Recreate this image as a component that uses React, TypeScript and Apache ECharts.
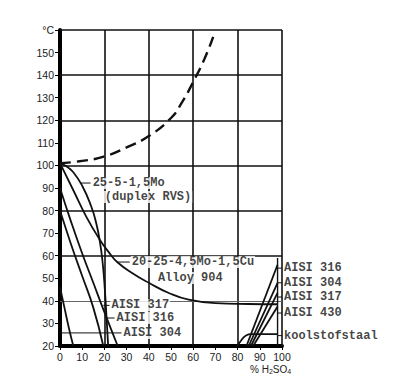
import React, { useEffect, useRef } from "react";
import * as echarts from "echarts";

// Boiling point curve (dashed)
const boilingX = [0, 10, 20, 30, 40, 50, 55, 60, 65, 69];
const boilingY = [101, 102, 104, 108, 113, 121, 128, 137, 147, 157];

// 25-5-1,5Mo (duplex RVS)
const duplexX = [0, 3, 6, 10, 14, 16.3, 18, 19.2, 20.2, 21, 21.7];
const duplexY = [101, 99.5, 97, 91, 82, 74.5, 66, 57, 45, 32, 20];

// 20-25-4,5Mo-1,5Cu Alloy 904
const alloyX = [0, 6, 12, 18, 22, 26, 33, 40, 49, 58, 70, 85, 98];
const alloyY = [101, 89, 77, 67, 61.5, 57, 52, 48, 43.5, 40.5, 39, 38.6, 38.5];

// Left (dilute) AISI curves
const l317X = [0, 5, 10, 15, 20, 26];
const l317Y = [90, 75, 61, 48, 35, 20];
const l316X = [0, 5, 10, 15, 19.5];
const l316Y = [80, 65, 51, 37, 20];
const l304X = [0, 2, 4, 6];
const l304Y = [46, 37, 28, 20];

// Right (concentrated) curves
const r316X = [84, 98];
const r316Y = [20, 56];
const r304X = [85, 98];
const r304Y = [20, 48];
const r317X = [86, 98];
const r317Y = [20, 43.5];
const r430X = [87, 98];
const r430Y = [20, 37.5];
const carbonX = [80, 82, 84, 86, 90, 98];
const carbonY = [20, 23, 24.8, 25.3, 25.3, 25.3];
const limitX = [98, 98];
const limitY = [20, 59];

// Grid lines (every 20)
const hGrid = [60, 80, 100, 120, 140, 160];
const vGrid = [20, 40, 60, 80, 100];
const thinGrid = [40];

// Labels: [text, x, y]
const leftLabels: [string, number, number][] = [
  ["25-5-1,5Mo", 13.8, 92.2],
  ["(duplex RVS)", 19.3, 86],
  ["20-25-4,5Mo-1,5Cu", 31.4, 57.2],
  ["Alloy 904", 43.2, 50.1],
  ["AISI 317", 22.3, 38],
  ["AISI 316", 24.6, 32.4],
  ["AISI 304", 27.7, 25.8],
];
const rightLabels: [string, number, number][] = [
  ["AISI 316", 100, 54.5],
  ["AISI 304", 100, 48],
  ["AISI 317", 100, 41.7],
  ["AISI 430", 100, 34.6],
  ["koolstofstaal", 100, 24.6],
];
// Leader lines: [x1, x2, y]
const leaders: [number, number, number][] = [
  [9.4, 13.8, 92.2],
  [25.8, 31.4, 57.2],
  [19.5, 22.3, 38],
  [20.5, 24.6, 32.4],
  [0, 27.7, 25.8],
  [98, 100, 54.5],
  [98, 100, 48],
  [98, 100, 41.7],
  [98, 100, 34.6],
  [98, 100, 24.6],
];

const zip = (xs: number[], ys: number[]) => xs.map((x, i) => [x, ys[i]]);

const INK = "#111";
const MONO = "'Liberation Mono', 'DejaVu Sans Mono', monospace";
const SANS = "'Liberation Sans Narrow', 'Liberation Sans', Arial, sans-serif";

function curve(xs: number[], ys: number[], extra: any = {}) {
  return {
    type: "line",
    data: zip(xs, ys),
    showSymbol: false,
    symbol: "none",
    smooth: 0.5,
    silent: true,
    z: 5,
    lineStyle: { color: INK, width: 1.8 },
    ...extra,
  };
}

export default function App() {
  const ref = useRef<HTMLDivElement>(null);

  useEffect(() => {
    if (!ref.current) return;
    const chart = echarts.init(ref.current, undefined, { renderer: "svg" });

    const gridMarks: any[] = [
      ...hGrid.map((v) => ({ yAxis: v })),
      ...vGrid.map((v) => ({ xAxis: v })),
      ...thinGrid.map((v) => ({ yAxis: v, lineStyle: { color: "#666", width: 1 } })),
    ];

    const labelStyle = {
      show: true,
      formatter: "{b}",
      position: "right",
      distance: 1,
      fontFamily: MONO,
      fontSize: 12,
      fontWeight: "bold",
      color: INK,
      backgroundColor: "#fff",
      padding: [0, 1, 0, 1],
    };

    const series: any[] = [
      {
        type: "line",
        data: [[0, 20]],
        showSymbol: false,
        symbol: "none",
        silent: true,
        z: 1,
        lineStyle: { opacity: 0 },
        markLine: {
          silent: true,
          symbol: ["none", "none"],
          label: { show: false },
          lineStyle: { color: INK, width: 1.6, type: "solid" },
          data: gridMarks,
          z: 1,
        },
      },
      curve(boilingX, boilingY, {
        lineStyle: { color: INK, width: 2.4, type: [11, 6] },
      }),
      curve(duplexX, duplexY),
      curve(alloyX, alloyY),
      curve(l317X, l317Y),
      curve(l316X, l316Y),
      curve(l304X, l304Y),
      curve(r316X, r316Y, { smooth: false }),
      curve(r304X, r304Y, { smooth: false }),
      curve(r317X, r317Y, { smooth: false }),
      curve(r430X, r430Y, { smooth: false }),
      curve(carbonX, carbonY),
      curve(limitX, limitY, { smooth: false, lineStyle: { color: INK, width: 1.4 } }),
      ...leaders.map((l) =>
        curve([l[0], l[1]], [l[2], l[2]], {
          smooth: false,
          lineStyle: { color: INK, width: 1 },
          z: 6,
        })
      ),
      {
        type: "scatter",
        symbolSize: 0,
        silent: true,
        z: 8,
        clip: false,
        data: [...leftLabels, ...rightLabels].map((l) => ({ name: l[0], value: [l[1], l[2]] })),
        label: labelStyle,
      },
    ];

    chart.setOption({
      animation: false,
      backgroundColor: "#fff",
      grid: { left: 60, right: 114, top: 30, bottom: 43, containLabel: false },
      xAxis: {
        type: "value",
        min: 0,
        max: 100,
        interval: 10,
        axisLine: { show: true, onZero: false, lineStyle: { color: "#000", width: 4 } },
        axisTick: { show: true, length: 4, lineStyle: { color: "#000", width: 1 } },
        axisLabel: { fontFamily: SANS, fontSize: 10.5, color: "#222", margin: 5 },
        splitLine: { show: false },
      },
      yAxis: {
        type: "value",
        min: 20,
        max: 160,
        interval: 10,
        axisLine: { show: true, onZero: false, lineStyle: { color: "#000", width: 4 } },
        axisTick: { show: true, length: 5, lineStyle: { color: "#000", width: 1 } },
        axisLabel: {
          fontFamily: SANS,
          fontSize: 10.5,
          color: "#222",
          margin: 6,
          formatter: (v: number) => (v === 160 ? "°C" : String(v)),
        },
        splitLine: { show: false },
      },
      graphic: [
        {
          type: "text",
          left: 250,
          top: 364,
          style: {
            text: "% H{s|2}SO{s|4}",
            font: `10px ${SANS}`,
            fill: "#222",
            rich: {
              s: { fontSize: 7, fontFamily: SANS, verticalAlign: "bottom", padding: [5, 0, 0, 0], fill: "#222" },
            },
          },
        },
      ],
      series,
    });

    return () => chart.dispose();
  }, []);

  return (
    <div
      ref={ref}
      style={{ position: "absolute", left: 0, top: 0, width: 396, height: 389, background: "#fff" }}
    />
  );
}
